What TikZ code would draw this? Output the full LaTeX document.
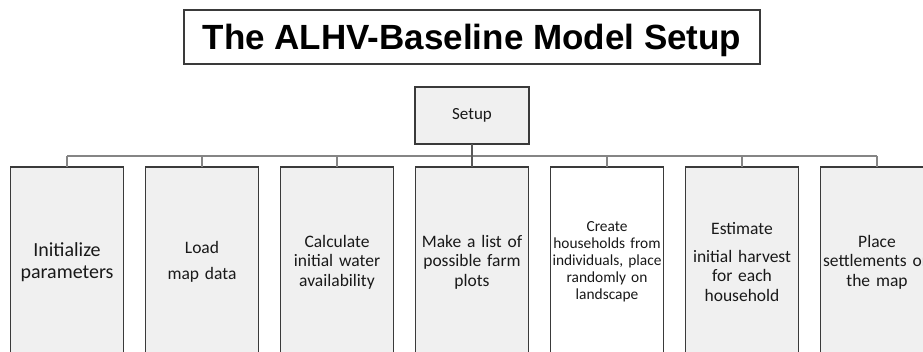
\documentclass[tikz,border=0pt]{standalone}
\usepackage{fontspec}
\setmainfont{Carlito}
\newfontfamily\titlefont{Liberation Sans}
\usepackage{tikz}
\usetikzlibrary{positioning}

\definecolor{cajagris}{HTML}{F0F0F0}
\definecolor{borde}{HTML}{3A3A3A}
\definecolor{linea}{HTML}{858585}

\begin{document}
\begin{tikzpicture}[x=1pt, y=-1pt,
  caja/.style={draw=borde, line width=1.3pt, fill=cajagris, outer sep=0pt,
    minimum width=113pt, minimum height=190pt, inner sep=0.5pt,
    text width=112pt, align=center, text=black!90,
    font=\fontsize{17.5}{19.5}\selectfont},
  enlace/.style={draw=linea, line width=1.5pt},
  tronco/.style={draw=black!65, line width=2pt}]

% Marco de la imagen
\useasboundingbox (0,0) rectangle (923,352);
\clip (0,0) rectangle (923,352);

% Titulo
\node[draw=borde, line width=1.3pt, minimum width=576pt, minimum height=54pt,
  text height=26pt, text depth=1pt,
  font=\titlefont\bfseries\fontsize{35}{40}\selectfont] (titulo) at (472,37)
  {The ALHV-Baseline Model Setup};

% Nodo raiz
\node[caja, minimum width=114pt, minimum height=57pt, font=\fontsize{17}{19}\selectfont]
  (setup) at (472,115.5) {Setup};

% Fila de pasos
\node[caja, font=\fontsize{20}{22}\selectfont] (b1) at (67,262) {Initialize\\parameters};
\node[caja, right=22pt of b1] (b2) {Load\\[6pt]map data};
\node[caja, right=22pt of b2] (b3) {Calculate\\initial water\\availability};
\node[caja, right=22pt of b3] (b4) {Make a list of\\possible farm\\plots};
\node[caja, right=22pt of b4, fill=white, font=\fontsize{15.4}{17}\selectfont] (b5)
  {Create\\households from\\individuals, place\\randomly on\\landscape};
\node[caja, right=22pt of b5] (b6) {Estimate\\[8pt]initial harvest\\for each\\household};
\node[caja, right=22pt of b6] (b7) {Place\\settlements on\\the map};

% Conectores
\coordinate (barra) at (472,156);
\foreach \n in {1,...,7}
  \draw[enlace] (b\n.north) -- (b\n.north |- barra);
\draw[enlace] (b1.north |- barra) -- (b7.north |- barra);
\draw[tronco] (setup) -- (b4);
\end{tikzpicture}
\end{document}
